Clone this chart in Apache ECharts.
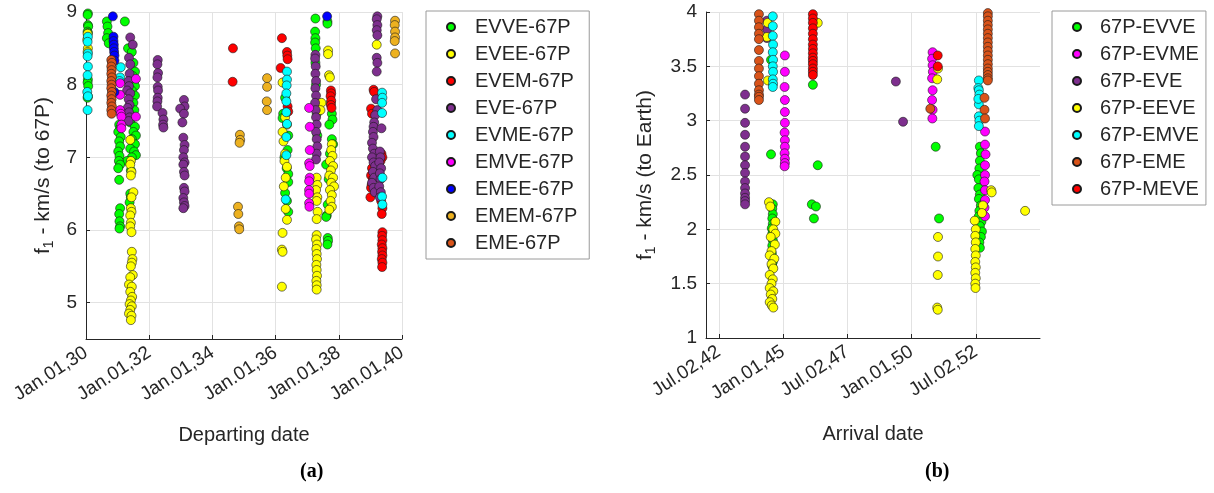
<!DOCTYPE html>
<html><head><meta charset="utf-8">
<script src="https://cdn.jsdelivr.net/npm/echarts@6/dist/echarts.min.js"></script>
<style>html,body{margin:0;padding:0;background:#fff}#c{width:1214px;height:493px}</style>
</head><body><div id="c"></div><script>
// ---------- tick labels ----------
const leftXTicks = [2030, 2032, 2034, 2036, 2038, 2040];
const leftXTickLabels = ['Jan.01,30', 'Jan.01,32', 'Jan.01,34', 'Jan.01,36', 'Jan.01,38', 'Jan.01,40'];
const leftYTicks = [5, 6, 7, 8, 9];
const rightXTicks = [2042.5, 2045, 2047.5, 2050, 2052.5];
const rightXTickLabels = ['Jul.02,42', 'Jan.01,45', 'Jul.02,47', 'Jan.01,50', 'Jul.02,52'];
const rightYTicks = [1, 1.5, 2, 2.5, 3, 3.5, 4];

// ---------- (a) departing date [decimal year, km/s] ----------
const evve67p = [
[2030.06,8.98],[2030.05,8.96],[2030.06,8.82],[2030.07,8.80],[2030.05,8.73],[2030.06,8.71],[2030.06,8.07],[2030.05,8.03],[2030.07,7.98],[2030.06,7.84],[2030.05,7.82],
[2030.66,8.87],[2030.68,8.80],[2030.70,8.71],[2030.66,8.64],[2030.72,8.57],[2031.23,8.87],
[2031.33,8.50],[2031.45,8.45],[2031.50,8.30],[2031.55,8.18],[2031.48,8.12],[2031.52,8.05],[2031.55,7.98],[2031.45,7.92],[2031.55,7.85],[2031.50,7.75],[2031.53,7.65],[2031.48,7.55],[2031.40,7.48],[2031.55,7.42],[2031.50,7.35],[2031.58,7.30],[2031.45,7.25],[2031.55,7.18],[2031.40,7.12],[2031.52,7.08],[2031.58,7.03],[2031.45,7.00],[2031.30,6.95],[2031.42,6.82],
[2031.05,7.45],[2031.08,7.40],[2031.02,7.35],[2031.10,7.28],[2031.05,7.22],[2031.08,7.15],[2031.02,7.08],[2031.06,7.02],[2031.04,6.95],[2031.08,6.90],[2031.02,6.85],[2031.05,6.69],
[2031.08,6.30],[2031.05,6.22],[2031.06,6.12],[2031.08,6.05],[2031.06,6.02],[2031.40,6.50],[2031.42,6.45],[2031.38,6.38],
[2036.30,7.82],[2036.24,7.60],[2036.22,7.54],[2036.40,7.30],[2036.38,7.10],[2036.28,7.00],[2036.35,6.85],[2036.40,6.77],[2036.40,6.66],[2036.30,6.51],[2036.36,6.40],[2036.40,6.25],
[2037.26,8.91],[2037.25,8.73],[2037.26,8.64],[2037.25,8.58],[2037.27,8.50],[2037.26,8.30],[2037.28,8.00],[2037.30,7.60],[2037.32,7.30],[2037.64,8.87],[2037.64,8.84],
[2037.78,7.60],[2037.80,7.52],[2037.70,7.45],[2037.78,7.25],[2037.82,7.18],[2037.72,7.05],[2037.60,6.90],[2037.68,6.70],[2037.65,6.35],[2037.62,6.20],[2037.60,6.18],[2037.65,5.89],[2037.66,5.85],[2037.64,5.80]
];
const evee67p = [
[2030.05,8.70],[2030.04,8.62],[2030.06,8.50],[2030.05,8.45],
[2031.40,7.24],[2031.42,6.95],[2031.40,6.90],[2031.44,6.80],[2031.42,6.75],[2031.50,6.52],[2031.44,6.45],[2031.42,6.30],[2031.44,6.25],[2031.40,6.20],[2031.42,6.10],[2031.40,6.05],[2031.44,5.97],[2031.45,5.70],[2031.47,5.60],[2031.45,5.55],[2031.42,5.50],[2031.48,5.38],[2031.40,5.35],[2031.36,5.25],[2031.45,5.22],[2031.40,5.15],[2031.46,5.08],[2031.42,5.03],[2031.38,4.98],[2031.45,4.95],[2031.40,4.90],[2031.36,4.85],[2031.44,4.82],[2031.42,4.76],
[2036.22,8.03],[2036.30,7.55],[2036.36,7.45],[2036.22,7.35],[2036.25,7.22],[2036.30,7.05],[2036.28,6.95],[2036.36,6.87],[2036.32,6.72],[2036.26,6.60],[2036.32,6.29],[2036.36,6.14],[2036.22,5.96],[2036.20,5.73],[2036.22,5.70],[2036.20,5.22],
[2037.30,5.93],[2037.28,5.87],[2037.31,5.80],[2037.29,5.74],[2037.30,5.67],[2037.31,5.60],[2037.29,5.52],[2037.30,5.45],[2037.31,5.37],[2037.29,5.30],[2037.30,5.24],[2037.30,5.18],
[2037.30,6.72],[2037.32,6.62],[2037.28,6.55],[2037.32,6.45],[2037.30,6.40],[2037.33,6.25],[2037.30,6.15],[2037.45,7.75],[2037.42,7.65],
[2037.66,8.47],[2037.66,8.42],[2037.69,8.13],[2037.72,8.10],[2037.75,7.75],[2037.78,7.18],[2037.76,7.10],[2037.80,7.02],[2037.72,6.95],[2037.82,6.88],[2037.75,6.82],[2037.70,6.75],[2037.82,6.72],[2037.76,6.65],[2037.85,6.60],[2037.72,6.55],[2037.78,6.48],[2037.74,6.40],[2037.78,6.32],[2037.70,6.28],
[2039.20,8.55]
];
const evem67p = [
[2034.65,8.50],[2034.64,8.04],
[2036.20,8.64],[2036.36,8.45],[2036.37,8.40],[2036.38,8.35],[2036.16,8.23],[2036.38,7.70],[2036.40,7.63],
[2037.75,7.92],[2037.76,7.88],[2037.74,7.84],[2037.76,7.78],[2037.75,7.72],[2037.77,7.68],
[2039.10,7.93],[2039.12,7.90],[2039.02,7.67],[2039.05,7.60],[2039.35,7.05],[2039.38,7.00],[2039.32,6.95],[2039.05,6.85],[2039.02,6.75],[2039.08,6.70],[2039.04,6.62],[2039.02,6.58],[2039.00,6.45],[2039.34,6.40],[2039.38,6.30],[2039.36,6.22],
[2039.38,5.97],[2039.37,5.92],[2039.38,5.86],[2039.36,5.80],[2039.38,5.75],[2039.37,5.70],[2039.38,5.65],[2039.36,5.60],[2039.38,5.55],[2039.37,5.49]
];
const eve67p = [
[2031.40,8.65],[2031.48,8.55],[2031.36,8.37],[2031.40,8.28],[2031.38,8.15],[2031.35,8.05],[2031.36,7.98],[2031.30,7.92],[2031.40,7.88],[2031.35,7.80],[2031.38,7.72],[2031.32,7.68],[2031.36,7.62],[2031.38,7.55],[2031.35,7.50],
[2032.27,8.34],[2032.26,8.28],[2032.28,8.16],[2032.26,8.10],[2032.27,7.97],[2032.28,7.92],[2032.27,7.82],[2032.26,7.77],[2032.25,7.70],[2032.42,7.61],[2032.45,7.52],[2032.44,7.45],[2032.45,7.41],
[2033.10,7.79],[2033.12,7.70],[2032.98,7.67],[2033.10,7.60],[2033.05,7.48],[2033.08,7.27],[2033.12,7.17],[2033.10,7.10],[2033.08,7.00],[2033.12,6.93],[2033.08,6.90],[2033.10,6.80],[2033.12,6.75],[2033.10,6.58],[2033.12,6.53],[2033.08,6.44],[2033.10,6.38],[2033.12,6.33],[2033.08,6.30],
[2037.26,8.41],[2037.25,8.36],[2037.27,8.25],[2037.26,8.15],[2037.28,8.05],[2037.26,7.95],[2037.28,7.85],[2037.25,7.75],[2037.27,7.65],[2037.28,7.55],[2037.30,7.45],[2037.28,7.35],[2037.30,7.25],[2037.32,7.15],[2037.30,7.05],[2037.28,6.97],
[2039.22,8.94],[2039.20,8.90],[2039.22,8.82],[2039.20,8.75],[2039.22,8.68],[2039.20,8.37],[2039.22,8.30],[2039.20,8.18],
[2039.18,7.80],[2039.22,7.65],[2039.15,7.58],[2039.12,7.48],[2039.10,7.42],[2039.08,7.35],[2039.10,7.28],[2039.05,7.20],[2039.08,7.12],[2039.12,7.05],[2039.05,7.00],[2039.10,6.93],[2039.15,6.88],[2039.08,6.80],[2039.12,6.72],[2039.05,6.65],[2039.10,6.58],[2039.14,6.52],
[2039.30,7.08],[2039.32,7.00],[2039.28,6.93],[2039.34,6.85],[2039.30,6.78],[2039.32,6.70],[2039.28,6.60],[2039.33,6.52],[2039.30,6.45],[2039.35,7.40]
];
const evme67p = [
[2030.06,8.66],[2030.05,8.59],[2030.06,8.43],[2030.05,8.39],[2030.06,8.25],[2030.05,8.13],[2030.04,7.90],[2030.06,7.84],[2030.05,7.65],
[2031.10,8.24],[2031.08,8.10],[2031.06,8.05],
[2036.36,8.18],[2036.36,8.07],[2036.35,7.99],[2036.34,7.88],[2036.34,7.77],[2036.34,7.62],[2036.36,7.46],[2036.34,7.28],[2036.34,7.03],[2036.32,6.42],
[2039.37,7.89],[2039.38,7.82],[2039.37,7.75],[2039.37,7.61],[2039.38,6.72],[2039.37,6.46],[2039.38,6.35]
];
const emve67p = [
[2031.08,8.02],[2031.08,7.86],[2031.08,7.65],[2031.10,7.60],[2031.12,7.56],[2031.12,7.45],[2031.12,7.40],[2031.58,8.08],[2031.58,7.56],
[2037.06,7.68],[2037.08,7.42],[2037.08,7.10],[2037.06,6.92],[2037.08,6.88],[2037.08,6.72],[2037.06,6.67],[2037.06,6.55],[2037.06,6.50],[2037.06,6.37],[2037.07,6.32]
];
const emee67p = [
[2030.85,8.94],[2030.87,8.66],[2030.87,8.60],[2030.88,8.55],[2030.88,8.50],[2030.89,8.45],[2030.90,8.40],[2030.90,8.33],[2030.90,7.90],[2037.63,8.94]
];
const emem67p = [
[2034.87,7.31],[2034.88,7.24],[2034.86,7.20],[2034.81,6.32],[2034.82,6.22],[2034.84,6.05],[2034.85,6.01],
[2035.73,8.09],[2035.73,7.97],[2035.72,7.77],[2035.73,7.65],
[2039.78,8.88],[2039.77,8.82],[2039.78,8.73],[2039.78,8.65],[2039.77,8.60],[2039.78,8.43]
];
const eme67p = [
[2030.80,8.34],[2030.82,8.30],[2030.80,8.25],[2030.81,8.20],[2030.80,8.15],[2030.82,8.10],[2030.80,8.05],[2030.81,8.00],[2030.80,7.95],[2030.82,7.90],[2030.80,7.85],[2030.81,7.80],[2030.80,7.75],[2030.82,7.70],[2030.80,7.65],[2030.81,7.60]
];

// ---------- (b) arrival date [decimal year, km/s] ----------
const p67evve = [
[2044.53,3.56],[2044.53,2.69],
[2044.60,2.23],[2044.58,2.19],[2044.60,2.14],[2044.58,2.10],[2044.60,2.05],[2044.56,2.01],[2044.58,1.96],[2044.60,1.90],[2044.58,1.85],[2044.56,1.78],[2044.60,1.70],[2044.58,1.66],
[2046.16,3.33],[2046.35,2.59],[2046.12,2.23],[2046.28,2.21],[2046.20,2.10],
[2050.94,2.76],[2051.07,2.10],
[2052.66,2.76],[2052.70,2.70],[2052.66,2.63],[2052.64,2.56],[2052.56,2.50],[2052.62,2.46],[2052.60,2.38],[2052.66,2.32],[2052.62,2.28],[2052.70,2.22],[2052.64,2.17],[2052.62,2.12],[2052.72,2.07],[2052.66,2.03],[2052.74,1.98],[2052.70,1.93],[2052.64,1.88],[2052.66,1.83]
];
const p67evme = [
[2045.07,3.60],[2045.07,3.45],[2045.06,3.31],[2045.07,3.19],[2045.07,3.08],[2045.07,2.98],[2045.06,2.89],[2045.07,2.82],[2045.07,2.76],[2045.06,2.70],[2045.07,2.65],[2045.07,2.61],[2045.06,2.58],
[2050.82,3.63],[2050.80,3.57],[2050.82,3.51],[2050.83,3.45],[2050.80,3.39],[2050.82,3.28],[2050.80,3.19],[2050.82,3.10],[2050.81,3.02],
[2052.86,2.90],[2052.86,2.78],[2052.88,2.69],[2052.86,2.59],[2052.86,2.50],[2052.84,2.44],[2052.86,2.36],[2052.86,2.27],[2052.84,2.20],[2052.86,2.12]
];
const p67eve = [
[2043.52,3.24],[2043.52,3.11],[2043.52,2.98],[2043.52,2.87],[2043.52,2.76],[2043.52,2.67],[2043.52,2.59],[2043.52,2.52],[2043.52,2.44],[2043.52,2.38],[2043.52,2.33],[2043.52,2.29],[2043.52,2.26],[2043.52,2.23],
[2044.37,3.92],[2044.38,3.84],[2044.37,3.76],
[2049.39,3.36],[2049.67,2.99]
];
const p67eeve = [
[2044.37,3.77],[2044.41,3.37],[2044.40,3.90],
[2044.45,2.25],[2044.50,2.21],[2044.70,2.07],[2044.62,2.00],[2044.70,1.96],[2044.52,1.93],[2044.68,1.86],[2044.55,1.80],[2044.48,1.76],[2044.66,1.73],[2044.55,1.68],[2044.62,1.64],[2044.48,1.58],[2044.60,1.54],[2044.55,1.50],[2044.48,1.46],[2044.62,1.43],[2044.52,1.40],[2044.58,1.36],[2044.48,1.33],[2044.56,1.30],[2044.62,1.28],
[2046.35,3.90],
[2051.03,3.48],[2051.00,3.38],[2051.03,1.93],[2051.03,1.75],[2051.02,1.58],[2051.00,1.28],[2051.02,1.26],
[2052.78,2.22],[2052.74,2.15],[2052.46,2.08],[2052.50,2.00],[2052.48,1.94],[2052.50,1.88],[2052.48,1.82],[2052.50,1.76],[2052.48,1.70],[2052.50,1.65],[2052.48,1.60],[2052.50,1.55],[2052.48,1.50],[2052.49,1.46],[2053.10,2.36],[2053.12,2.34],
[2054.42,2.17]
];
const p67emve = [
[2044.60,3.96],[2044.60,3.87],[2044.60,3.78],[2044.61,3.70],[2044.60,3.63],[2044.61,3.56],[2044.60,3.50],[2044.61,3.45],[2044.60,3.38],[2044.61,3.34],[2044.60,3.31],
[2052.62,3.37],[2052.60,3.30],[2052.62,3.28],[2052.64,3.24],[2052.62,3.15],[2052.60,3.20],[2052.62,3.04],[2052.64,3.00],[2052.62,2.95]
];
const p67eme = [
[2044.06,3.98],[2044.06,3.92],[2044.06,3.86],[2044.06,3.80],[2044.06,3.75],[2044.06,3.65],[2044.06,3.55],[2044.06,3.48],[2044.06,3.41],[2044.06,3.34],[2044.06,3.28],[2044.06,3.24],[2044.06,3.22],[2044.06,3.19],
[2050.73,3.11],
[2052.97,3.99],[2052.97,3.96],[2052.97,3.92],[2052.97,3.88],[2052.97,3.84],[2052.97,3.80],[2052.97,3.76],[2052.97,3.72],[2052.97,3.68],[2052.97,3.64],[2052.97,3.60],[2052.97,3.56],[2052.97,3.52],[2052.97,3.48],[2052.97,3.45],[2052.97,3.42],[2052.97,3.39],[2052.97,3.37],
[2052.84,3.21],[2052.84,3.10],[2052.86,3.02]
];
const p67meve = [
[2046.16,3.98],[2046.16,3.94],[2046.16,3.90],[2046.16,3.85],[2046.16,3.80],[2046.16,3.75],[2046.16,3.70],[2046.16,3.66],[2046.16,3.62],[2046.16,3.58],[2046.16,3.55],[2046.16,3.52],[2046.16,3.48],[2046.16,3.45],[2046.16,3.42],
[2051.02,3.60],[2051.02,3.50]
];

const leftNames = ['EVVE-67P','EVEE-67P','EVEM-67P','EVE-67P','EVME-67P','EMVE-67P','EMEE-67P','EMEM-67P','EME-67P'];
const leftData = [evve67p, evee67p, evem67p, eve67p, evme67p, emve67p, emee67p, emem67p, eme67p];
const leftColors = ['#00ff00','#ffff00','#ff0000','#7e2f8e','#00ffff','#ff00ff','#0000ff','#edb120','#d95319'];
const rightNames = ['67P-EVVE','67P-EVME','67P-EVE','67P-EEVE','67P-EMVE','67P-EME','67P-MEVE'];
const rightData = [p67evve, p67evme, p67eve, p67eeve, p67emve, p67eme, p67meve];
const rightColors = ['#00ff00','#ff00ff','#7e2f8e','#ffff00','#00ffff','#d95319','#ff0000'];

const AX = '#262626', GRID = '#e2e2e2', FONT = 'Liberation Sans, Arial, Helvetica, sans-serif';

function lab(ticks, labels) {
  return v => { for (let i = 0; i < ticks.length; i++) if (Math.abs(ticks[i] - v) < 1e-6) return labels[i]; return ''; };
}
function xAxisBase(gi, min, max, ticks, labels, name) {
  return {
    type: 'value', gridIndex: gi, min: min, max: max,
    axisLine: { show: true, onZero: false, lineStyle: { color: AX, width: 1 } },
    axisTick: { show: true, inside: true, length: 4, customValues: ticks, lineStyle: { color: AX } },
    axisLabel: { customValues: ticks, rotate: 33, margin: 12, fontSize: 19, color: AX, fontFamily: FONT, formatter: lab(ticks, labels) },
    splitLine: { show: true, lineStyle: { color: GRID, width: 1 } },
    name: name, nameLocation: 'middle', nameGap: 86,
    nameTextStyle: { fontSize: 20, color: AX, fontFamily: FONT }
  };
}
function yAxisBase(gi, min, max, ticks, name, gap) {
  return {
    type: 'value', gridIndex: gi, min: min, max: max,
    axisLine: { show: true, onZero: false, lineStyle: { color: AX, width: 1 } },
    axisTick: { show: true, inside: true, length: 4, customValues: ticks, lineStyle: { color: AX } },
    axisLabel: { customValues: ticks, margin: 9, fontSize: 19, color: AX, fontFamily: FONT },
    splitLine: { show: true, lineStyle: { color: GRID, width: 1 } },
    name: name, nameLocation: 'middle', nameGap: gap,
    nameTextStyle: { fontSize: 21, color: AX, fontFamily: FONT,
      rich: { s: { fontSize: 14, color: AX, fontFamily: FONT, padding: [12, 0, 0, 0] } } }
  };
}
function mk(names, data, colors, xi) {
  return names.map((n, i) => ({
    type: 'scatter', name: n, xAxisIndex: xi, yAxisIndex: xi, data: data[i],
    symbol: 'circle', symbolSize: 9,
    itemStyle: { color: colors[i], borderColor: '#1a1a1a', borderWidth: 0.6, opacity: 1 },
    emphasis: { disabled: true }
  }));
}
function legendBase(names, left, padding, textPad) {
  return {
    orient: 'vertical', left: left, top: 11, data: names, icon: 'circle',
    itemWidth: 8, itemHeight: 8, itemGap: 7, padding: padding,
    borderColor: '#9a9a9a', borderWidth: 1, backgroundColor: '#fff',
    textStyle: { fontSize: 20, lineHeight: 20, color: AX, fontFamily: FONT, padding: [0, 0, 0, textPad] },
    selectedMode: false
  };
}

const chart = echarts.init(document.getElementById('c'), null, { renderer: 'canvas' });
chart.setOption({
  animation: false,
  backgroundColor: '#ffffff',
  grid: [
    { left: 86, top: 12, width: 316, height: 327 },
    { left: 706, top: 12, width: 334, height: 326 }
  ],
  xAxis: [
    xAxisBase(0, 2030, 2040, leftXTicks, leftXTickLabels, 'Departing date'),
    xAxisBase(1, 2042, 2055, rightXTicks, rightXTickLabels, 'Arrival date')
  ],
  yAxis: [
    yAxisBase(0, 4.5, 9, leftYTicks, 'f{s|1} - km/s (to 67P)', 30),
    yAxisBase(1, 1, 4, rightYTicks, 'f{s|1} - km/s (to Earth)', 48)
  ],
  legend: [
    legendBase(leftNames, 426, [6, 12, 6, 20], 15),
    legendBase(rightNames, 1052, [6, 7, 6, 20], 14)
  ],
  graphic: [
    { type: 'text', left: 300, top: 462, style: { text: '(a)', font: 'bold 20px "Liberation Serif", "Times New Roman", serif', fill: '#000' } },
    { type: 'text', left: 925, top: 462, style: { text: '(b)', font: 'bold 20px "Liberation Serif", "Times New Roman", serif', fill: '#000' } }
  ],
  series: mk(leftNames, leftData, leftColors, 0).concat(mk(rightNames, rightData, rightColors, 1))
});
</script></body></html>
